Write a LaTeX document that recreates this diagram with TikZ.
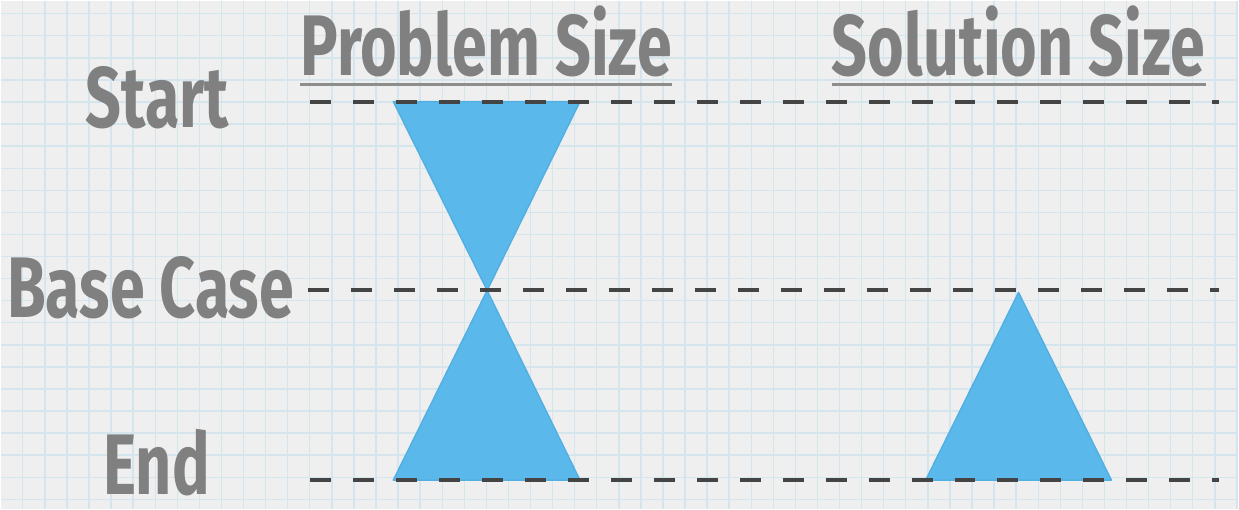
\documentclass[tikz,border=0pt]{standalone}
\usepackage{fontspec}
\newfontfamily\handfont[FakeStretch=0.73]{Fira Sans}
\usetikzlibrary{positioning,calc}
\definecolor{paper}{HTML}{EFEFEF}
\definecolor{gridblue}{HTML}{D5E5EE}
\definecolor{chalk}{HTML}{808080}
\definecolor{lvlgray}{HTML}{444444}
\definecolor{trifill}{HTML}{5BB8EA}
\definecolor{triedge}{HTML}{52AFE2}
\tikzset{
  gridln/.style={gridblue,line width=0.8pt},
  lbl/.style={font=\handfont\bfseries\fontsize{49}{49}\selectfont,
    text=chalk,inner sep=0pt,anchor=base},
  uline/.style={chalk!90,line width=1.4pt},
  lvl/.style={lvlgray,line width=2.3pt,dash pattern=on 0.42cm off 0.44cm},
  tri/.style={fill=trifill,draw=triedge,line width=0.8pt,line join=round},
}

\begin{document}
\begin{tikzpicture}[x=0.02cm,y=-0.02cm]
  % paper and grid
  \fill[paper] (0,0) rectangle (1239,509);
  \foreach \i in {1,...,56}
    \draw[gridln] ({22.1*\i},0) -- ({22.1*\i},509);
  \foreach \j in {0,...,22}
    \draw[gridln] (0,{13+22.1*\j}) -- (1239,{13+22.1*\j});

  % row labels
  \node[lbl] (start) at (157,127) {Start};
  \node[lbl] (base)  at (150,317) {Base Case};
  \node[lbl] (end)   at (156,494) {End};

  % column headers
  \node[lbl] (prob) at (486,75) {Problem Size};
  \node[lbl] (sol)  at (1019,75) {Solution Size};
  \draw[uline] ($(prob.south west)+(0,7)$) -- ($(prob.south east)+(0,7)$);
  \draw[uline] ($(sol.south west)+(0,7)$) -- ($(sol.south east)+(0,7)$);

  % triangles
  \coordinate (pt1) at (393,101);
  \coordinate (pt2) at (580,101);
  \coordinate (pmid) at (487,290);
  \coordinate (pb1) at (393,480);
  \coordinate (pb2) at (580,480);
  \coordinate (stop) at (1019,292);
  \coordinate (sb1) at (926,480);
  \coordinate (sb2) at (1112,480);
  \draw[tri] (pt1) -- (pt2) -- (pmid) -- cycle;
  \draw[tri] (pmid) -- (pb2) -- (pb1) -- cycle;
  \draw[tri] (stop) -- (sb2) -- (sb1) -- cycle;

  % levels
  \coordinate (l1a) at (310,101);
  \coordinate (l1b) at (1220,101);
  \coordinate (l2a) at (308,290);
  \coordinate (l2b) at (1220,290);
  \coordinate (l3a) at (310,480);
  \coordinate (l3b) at (1220,480);
  \draw[lvl] (l1a) -- (l1b);
  \draw[lvl] (l2a) -- (l2b);
  \draw[lvl] (l3a) -- (l3b);
\end{tikzpicture}
\end{document}
